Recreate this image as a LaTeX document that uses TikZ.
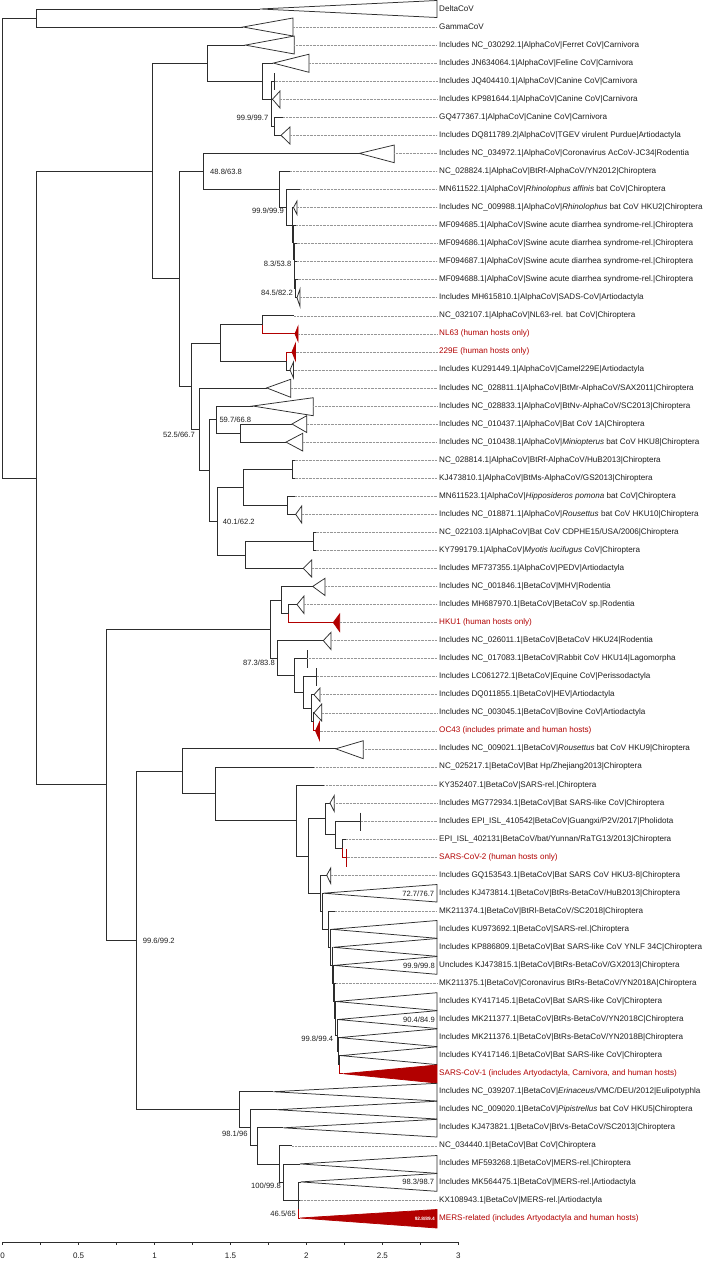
\documentclass[tikz,border=0pt]{standalone}
\usepackage{fontspec}
\setmainfont{Liberation Sans}
\definecolor{myred}{RGB}{178,0,0}
\definecolor{lin}{RGB}{45,45,45}
\definecolor{txt}{RGB}{30,30,30}
\definecolor{dotc}{RGB}{150,150,150}
\newcommand{\mylab}[2]{\node[tl] (t#1) at (439,{9+(#1-1)*18.045}) {#2};}
\newcommand{\myrlab}[2]{\node[tl,text=myred] (t#1) at (439,{9+(#1-1)*18.045}) {#2};}
\newcommand{\mytri}[5]{\draw[br] (#1,#2) -- (#3,#4) -- (#3,#5) -- cycle;}
\newcommand{\myrtri}[5]{\filldraw[rbr,fill=myred] (#1,#2) -- (#3,#4) -- (#3,#5) -- cycle;}
\newcommand{\mylead}[2]{\draw[leader] (#1,#2) -- (437,#2);}
\newcommand{\mytick}[3]{\draw[br] (#1,#2) -- (#1,#3);}
\newcommand{\bs}[4]{\node[bsl,anchor=#1] at (#2,#3) {#4};}
\begin{document}
\begin{tikzpicture}[x=1pt,y=-1pt,
  br/.style={draw=lin,line width=0.75pt},
  rbr/.style={draw=myred,line width=0.75pt},
  leader/.style={draw=dotc,line width=0.5pt,dash pattern=on 0.7pt off 0.7pt},
  tl/.style={anchor=west,inner sep=0pt,text=txt,font=\fontsize{8.1}{9}\selectfont},
  bsl/.style={inner sep=0pt,text=txt,font=\fontsize{7.6}{9}\selectfont}]
\useasboundingbox (0,0) rectangle (709,1261);
\fill[white] (0,0) rectangle (709,1261);
% ---------- internal nodes ----------
\coordinate (R0) at (2,247.9);
\coordinate (DG) at (36,18);
\coordinate (AB) at (36,477.9);
\coordinate (P) at (152.7,170.9);
\coordinate (C) at (207.3,63.1);
\coordinate (D) at (262.3,81.2);
\coordinate (E) at (271,99.2);
\coordinate (G) at (274.3,126.3);
\coordinate (Q) at (179,278.7);
\coordinate (R) at (203.3,171.4);
\coordinate (S) at (279.3,189.4);
\coordinate (T) at (286.7,207.3);
\coordinate (Z1) at (292.5,225);
\coordinate (Z2) at (293.5,242.5);
\coordinate (Z3) at (294.2,259.4);
\coordinate (Z4) at (294.8,275.2);
\coordinate (Z5) at (295.4,288.7);
\coordinate (X1) at (191.7,386);
\coordinate (X2) at (220,342.9);
\coordinate (X3) at (262.3,324.8);
\coordinate (X4) at (286,360.9);
\coordinate (X5) at (199,429.1);
\coordinate (X6) at (209.3,470.3);
\coordinate (X7) at (216,419.5);
\coordinate (X9) at (240.7,433.1);
\coordinate (X8) at (217.3,521);
\coordinate (X10) at (243.3,487.2);
\coordinate (X12) at (292.7,469.2);
\coordinate (X13) at (287,505.3);
\coordinate (X11) at (245.7,554.9);
\coordinate (X14) at (313.3,541.4);
\coordinate (B0) at (106.7,784.8);
\coordinate (B1) at (270,629);
\coordinate (B2) at (281,600);
\coordinate (B4) at (288,613.5);
\coordinate (B3) at (277.7,658.1);
\coordinate (B5) at (294.3,675.5);
\coordinate (B6) at (303.3,692.5);
\coordinate (B7) at (311.7,708.2);
\coordinate (B8) at (313.3,721.8);
\coordinate (B9) at (136,940.5);
\coordinate (B10) at (182.7,771.3);
\coordinate (B11) at (215.7,793.7);
\coordinate (B12) at (296.3,820.5);
\coordinate (B13) at (308.3,856);
\coordinate (B14) at (325.7,818.8);
\coordinate (B16) at (335.7,834.6);
\coordinate (B17) at (342.3,848.1);
\coordinate (B15) at (320,893.2);
\coordinate (L1) at (322.7,911.3);
\coordinate (L2) at (328.3,929.3);
\coordinate (L3) at (330.7,947.3);
\coordinate (L4) at (332.3,965.3);
\coordinate (L5) at (333.3,983.2);
\coordinate (L6) at (334.3,1000.9);
\coordinate (L7) at (335.3,1018.4);
\coordinate (L8) at (337,1035.3);
\coordinate (L9) at (338.3,1051.1);
\coordinate (L10) at (339.3,1064.6);
\coordinate (M1) at (239,1109.7);
\coordinate (M2) at (250.3,1127.8);
\coordinate (M3) at (257.7,1145.8);
\coordinate (M4) at (279,1163.9);
\coordinate (M5) at (283.7,1182);
\coordinate (M6) at (298.7,1200);
% ---------- backbone ----------
\draw[br] (R0) |- (DG); \draw[br] (R0) |- (AB);
\draw[br] (DG) |- (260,9); \mytri{260}{9}{437}{0.5}{17.5}
\draw[br] (DG) |- (243,27); \mytri{243}{27}{293}{18}{36} \mylead{293}{27}
\draw[br] (AB) |- (P); \draw[br] (AB) |- (B0);
% ---------- alpha ----------
\draw[br] (P) |- (C); \draw[br] (P) |- (Q);
\draw[br] (C) |- (245.3,45.1); \mytri{245.3}{45.1}{294.3}{36}{54} \mylead{294.3}{45.1}
\draw[br] (C) |- (D);
\draw[br] (D) |- (273.3,63.1); \mytri{273.3}{63.1}{309}{54.2}{72.3} \mylead{309}{63.1}
\draw[br] (D) |- (E);
\draw[br] (E) |- (274.5,81.2); \mytick{274.5}{73}{90} \mylead{274.5}{81.2}
\draw[br] (E) -- (272.5,99.2); \mytri{272.5}{99.2}{280}{91}{108} \mylead{280}{99.2}
\draw[br] (E) |- (G);
\draw[br] (G) |- (283,117.3); \mylead{283}{117.3}
\draw[br] (G) |- (281,135.3); \mytri{281}{135.3}{290}{127}{144} \mylead{290}{135.3}
\draw[br] (Q) |- (R); \draw[br] (Q) |- (X1);
\draw[br] (R) |- (359.3,153.4); \mytri{359.3}{153.4}{394.3}{145}{162.7} \mylead{394.3}{153.4}
\draw[br] (R) |- (S);
\draw[br] (S) |- (290,171.4); \mylead{290}{171.4}
\draw[br] (S) |- (T);
\draw[br] (T) |- (300,189.5); \mylead{300}{189.5}
\draw[br] (T) |- (Z1);
\draw[br] (Z1) |- (293.5,207.5); \mytri{293.5}{207.5}{297}{201}{214.5} \mylead{297}{207.5}
\draw[br] (Z1) |- (Z2);
\draw[br] (Z2) |- (296,225.5); \mylead{296}{225.5}
\draw[br] (Z2) |- (Z3);
\draw[br] (Z3) |- (296.5,243.6); \mylead{296.5}{243.6}
\draw[br] (Z3) |- (Z4);
\draw[br] (Z4) |- (297,261.6); \mylead{297}{261.6}
\draw[br] (Z4) |- (Z5);
\draw[br] (Z5) |- (297.5,279.7); \mylead{297.5}{279.7}
\draw[br] (Z5) |- (297,297.7); \mytri{297}{297.7}{300}{289}{306.5} \mylead{300}{297.7}
\draw[br] (X1) |- (X2); \draw[br] (X1) |- (X5);
\draw[br] (X2) |- (X3); \draw[br] (X2) |- (X4);
\draw[br] (X3) |- (294,315.8); \mylead{294}{315.8}
\draw[rbr] (X3) |- (295,333.8); \myrtri{295}{333.8}{298}{326.5}{341} \mylead{298}{333.8}
\draw[rbr] (X4) |- (292,351.9); \myrtri{292}{351.9}{295.5}{343.5}{360.5} \mylead{295.5}{351.9}
\draw[br] (X4) |- (290,369.9); \mytri{290}{369.9}{293.5}{362}{378} \mylead{293.5}{369.9}
\draw[br] (X5) |- (266.7,387.9); \mytri{266.7}{387.9}{290.7}{379.3}{397.3} \mylead{290.7}{387.9}
\draw[br] (X5) |- (X6);
\draw[br] (X6) |- (X7); \draw[br] (X6) |- (X8);
\draw[br] (X7) |- (252.7,406); \mytri{252.7}{406}{313.3}{397.7}{415.7} \mylead{313.3}{406}
\draw[br] (X7) |- (X9);
\draw[br] (X9) |- (292,424); \mytri{292}{424}{306.7}{415.7}{432.5} \mylead{306.7}{424}
\draw[br] (X9) |- (286,442.1); \mytri{286}{442.1}{302.7}{433.3}{451} \mylead{302.7}{442.1}
\draw[br] (X8) |- (X10); \draw[br] (X8) |- (X11);
\draw[br] (X10) |- (X12); \draw[br] (X10) |- (X13);
\draw[br] (X12) |- (294.5,460.1); \mylead{294.5}{460.1}
\draw[br] (X12) |- (294.5,478.2); \mylead{294.5}{478.2}
\draw[br] (X13) |- (295,496.2); \mylead{295}{496.2}
\draw[br] (X13) |- (295.7,514.3); \mytri{295.7}{514.3}{301.7}{506}{523} \mylead{301.7}{514.3}
\draw[br] (X11) |- (X14);
\draw[br] (X11) |- (303.3,568.4); \mytri{303.3}{568.4}{311.7}{560}{577} \mylead{311.7}{568.4}
\draw[br] (X14) |- (315.5,532.3); \mylead{315.5}{532.3}
\draw[br] (X14) |- (315.5,550.4); \mylead{315.5}{550.4}
% ---------- beta ----------
\draw[br] (B0) |- (B1); \draw[br] (B0) |- (B9);
\draw[br] (B1) |- (B2); \draw[br] (B1) |- (B3);
\draw[br] (B2) |- (312.7,586.4); \mytri{312.7}{586.4}{325}{578.3}{595.5} \mylead{325}{586.4}
\draw[br] (B2) |- (B4);
\draw[br] (B4) |- (297,604.5); \mytri{297}{604.5}{304}{596}{613.5} \mylead{304}{604.5}
\draw[rbr] (B4) |- (333.3,622.5); \myrtri{333.3}{622.5}{339.7}{614}{631.5} \mylead{339.7}{622.5}
\draw[br] (B3) |- (323.3,640.6); \mytri{323.3}{640.6}{331}{632.3}{649.5} \mylead{331}{640.6}
\draw[br] (B3) |- (B5);
\draw[br] (B5) |- (307.3,658.6); \mytick{307.3}{650}{668} \mylead{307.3}{658.6}
\draw[br] (B5) |- (B6);
\draw[br] (B6) |- (316.7,676.7); \mytick{316.7}{668}{686} \mylead{316.7}{676.7}
\draw[br] (B6) |- (B7);
\draw[br] (B7) |- (314,694.7); \mytri{314}{694.7}{320}{688}{701.5} \mylead{320}{694.7}
\draw[br] (B7) |- (B8);
\draw[br] (B8) |- (314,712.8); \mytri{314}{712.8}{321.7}{704}{721} \mylead{321.7}{712.8}
\draw[rbr] (B8) |- (315.5,730.8); \myrtri{315.5}{730.8}{319.5}{722}{740} \mylead{319.5}{730.8}
\draw[br] (B9) |- (B10); \draw[br] (B9) |- (M1);
\draw[br] (B10) |- (335.7,748.8); \mytri{335.7}{748.8}{363.3}{740.7}{758.7} \mylead{363.3}{748.8}
\draw[br] (B10) |- (B11);
\draw[br] (B11) |- (314.3,766.9); \mylead{314.3}{766.9}
\draw[br] (B11) |- (B12);
\draw[br] (B12) |- (324.3,784.9); \mylead{324.3}{784.9}
\draw[br] (B12) |- (B13);
\draw[br] (B13) |- (B14); \draw[br] (B13) |- (B15);
\draw[br] (B14) |- (330,803); \mytri{330}{803}{334.3}{795.5}{811.5} \mylead{334.3}{803}
\draw[br] (B14) |- (B16);
\draw[br] (B16) |- (360.7,821); \mytick{360.7}{812.7}{830.7} \mylead{360.7}{821}
\draw[br] (B16) |- (B17);
\draw[br] (B17) |- (346,839.1); \mylead{346}{839.1}
\draw[rbr] (B17) |- (346.5,857.1); \draw[rbr] (346.5,849) -- (346.5,866.5); \mylead{346.5}{857.1}
\draw[br] (B15) |- (326.7,875.2); \mytri{326.7}{875.2}{330.7}{868}{883.5} \mylead{330.7}{875.2}
\draw[br] (B15) |- (L1);
\draw[br] (L1) |- (323.3,893.2); \mytri{323.3}{893.2}{437}{884.5}{902}
\draw[br] (L1) |- (L2);
\draw[br] (L2) |- (335,911.3); \mylead{335}{911.3}
\draw[br] (L2) |- (L3);
\draw[br] (L3) |- (331.7,929.3); \mytri{331.7}{929.3}{437}{920.5}{938.3}
\draw[br] (L3) |- (L4);
\draw[br] (L4) |- (333.3,947.3); \mytri{333.3}{947.3}{437}{938.5}{956.3}
\draw[br] (L4) |- (L5);
\draw[br] (L5) |- (334,965.4); \mytri{334}{965.4}{437}{956.5}{974.3}
\draw[br] (L5) |- (L6);
\draw[br] (L6) |- (336,983.4); \mylead{336}{983.4}
\draw[br] (L6) |- (L7);
\draw[br] (L7) |- (336,1001.5); \mytri{336}{1001.5}{437}{992.7}{1010.5}
\draw[br] (L7) |- (L8);
\draw[br] (L8) |- (337.8,1019.5); \mytri{337.8}{1019.5}{437}{1010.7}{1028.5}
\draw[br] (L8) |- (L9);
\draw[br] (L9) |- (339.5,1037.6); \mytri{339.5}{1037.6}{437}{1028.8}{1046.6}
\draw[br] (L9) |- (L10);
\draw[br] (L10) |- (341,1055.6); \mytri{341}{1055.6}{437}{1046.8}{1064.6}
\draw[rbr] (L10) |- (343.3,1073.7); \myrtri{343.3}{1073.7}{437}{1065}{1083}
\draw[br] (M1) |- (273.3,1091.7); \mytri{273.3}{1091.7}{437}{1083.3}{1101}
\draw[br] (M1) |- (M2);
\draw[br] (M2) |- (276.7,1109.7); \mytri{276.7}{1109.7}{437}{1101.2}{1119}
\draw[br] (M2) |- (M3);
\draw[br] (M3) |- (283.3,1127.8); \mytri{283.3}{1127.8}{437}{1119.3}{1137}
\draw[br] (M3) |- (M4);
\draw[br] (M4) |- (292,1145.8); \mylead{292}{1145.8}
\draw[br] (M4) |- (M5);
\draw[br] (M5) |- (300,1163.9); \mytri{300}{1163.9}{437}{1155.5}{1173.3}
\draw[br] (M5) |- (M6);
\draw[br] (M6) |- (300.7,1181.9); \mytri{300.7}{1181.9}{437}{1173.5}{1191.3}
\draw[br] (M6) -- (299.5,1200); \mylead{299.5}{1200}
\draw[br] (M6) -- (298.7,1209);
\draw[rbr] (298.7,1209) |- (300,1218); \myrtri{300}{1218}{437}{1209.5}{1228}
% ---------- support values ----------
\bs{east}{268.5}{117.3}{99.9/99.7}
\bs{west}{210}{171.4}{48.8/63.8}
\bs{east}{284}{211}{99.9/99.9}
\bs{east}{291.5}{263.3}{8.3/53.8}
\bs{east}{293}{292.3}{84.5/82.2}
\bs{east}{195}{434.3}{52.5/66.7}
\bs{west}{219.3}{420}{59.7/66.8}
\bs{west}{222.7}{521.7}{40.1/62.2}
\bs{east}{275}{662.7}{87.3/83.8}
\bs{west}{142.7}{941}{99.6/99.2}
\bs{east}{434.3}{893.3}{72.7/76.7}
\bs{east}{435}{965.7}{99.9/99.8}
\bs{east}{435}{1020}{90.4/84.9}
\bs{east}{333.3}{1038.3}{99.8/99.4}
\bs{east}{247.7}{1133.3}{98.1/96}
\bs{east}{281}{1186}{100/99.8}
\bs{east}{434.3}{1181.7}{98.3/98.7}
\bs{east}{296}{1213.3}{46.5/65}
\node[inner sep=0pt,anchor=east,text=white,font=\fontsize{4.8}{5}\selectfont\bfseries] at (435,1218.3) {92.8/89.4};
% ---------- tip labels ----------
\mylab{1}{DeltaCoV}
\mylab{2}{GammaCoV}
\mylab{3}{Includes NC\_030292.1|AlphaCoV|Ferret CoV|Carnivora}
\mylab{4}{Includes JN634064.1|AlphaCoV|Feline CoV|Carnivora}
\mylab{5}{Includes JQ404410.1|AlphaCoV|Canine CoV|Carnivora}
\mylab{6}{Includes KP981644.1|AlphaCoV|Canine CoV|Carnivora}
\mylab{7}{GQ477367.1|AlphaCoV|Canine CoV|Carnivora}
\mylab{8}{Includes DQ811789.2|AlphaCoV|TGEV virulent Purdue|Artiodactyla}
\mylab{9}{Includes NC\_034972.1|AlphaCoV|Coronavirus AcCoV-JC34|Rodentia}
\mylab{10}{NC\_028824.1|AlphaCoV|BtRf-AlphaCoV/YN2012|Chiroptera}
\mylab{11}{MN611522.1|AlphaCoV|\textit{Rhinolophus affinis} bat CoV|Chiroptera}
\mylab{12}{Includes NC\_009988.1|AlphaCoV|\textit{Rhinolophus} bat CoV HKU2|Chiroptera}
\mylab{13}{MF094685.1|AlphaCoV|Swine acute diarrhea syndrome-rel.|Chiroptera}
\mylab{14}{MF094686.1|AlphaCoV|Swine acute diarrhea syndrome-rel.|Chiroptera}
\mylab{15}{MF094687.1|AlphaCoV|Swine acute diarrhea syndrome-rel.|Chiroptera}
\mylab{16}{MF094688.1|AlphaCoV|Swine acute diarrhea syndrome-rel.|Chiroptera}
\mylab{17}{Includes MH615810.1|AlphaCoV|SADS-CoV|Artiodactyla}
\mylab{18}{NC\_032107.1|AlphaCoV|NL63-rel. bat CoV|Chiroptera}
\myrlab{19}{NL63 (human hosts only)}
\myrlab{20}{229E (human hosts only)}
\mylab{21}{Includes KU291449.1|AlphaCoV|Camel229E|Artiodactyla}
\mylab{22}{Includes NC\_028811.1|AlphaCoV|BtMr-AlphaCoV/SAX2011|Chiroptera}
\mylab{23}{Includes NC\_028833.1|AlphaCoV|BtNv-AlphaCoV/SC2013|Chiroptera}
\mylab{24}{Includes NC\_010437.1|AlphaCoV|Bat CoV 1A|Chiroptera}
\mylab{25}{Includes NC\_010438.1|AlphaCoV|\textit{Miniopterus} bat CoV HKU8|Chiroptera}
\mylab{26}{NC\_028814.1|AlphaCoV|BtRf-AlphaCoV/HuB2013|Chiroptera}
\mylab{27}{KJ473810.1|AlphaCoV|BtMs-AlphaCoV/GS2013|Chiroptera}
\mylab{28}{MN611523.1|AlphaCoV|\textit{Hipposideros pomona} bat CoV|Chiroptera}
\mylab{29}{Includes NC\_018871.1|AlphaCoV|\textit{Rousettus} bat CoV HKU10|Chiroptera}
\mylab{30}{NC\_022103.1|AlphaCoV|Bat CoV CDPHE15/USA/2006|Chiroptera}
\mylab{31}{KY799179.1|AlphaCoV|\textit{Myotis lucifugus} CoV|Chiroptera}
\mylab{32}{Includes MF737355.1|AlphaCoV|PEDV|Artiodactyla}
\mylab{33}{Includes NC\_001846.1|BetaCoV|MHV|Rodentia}
\mylab{34}{Includes MH687970.1|BetaCoV|BetaCoV sp.|Rodentia}
\myrlab{35}{HKU1 (human hosts only)}
\mylab{36}{Includes NC\_026011.1|BetaCoV|BetaCoV HKU24|Rodentia}
\mylab{37}{Includes NC\_017083.1|BetaCoV|Rabbit CoV HKU14|Lagomorpha}
\mylab{38}{Includes LC061272.1|BetaCoV|Equine CoV|Perissodactyla}
\mylab{39}{Includes DQ011855.1|BetaCoV|HEV|Artiodactyla}
\mylab{40}{Includes NC\_003045.1|BetaCoV|Bovine CoV|Artiodactyla}
\myrlab{41}{OC43 (includes primate and human hosts)}
\mylab{42}{Includes NC\_009021.1|BetaCoV|\textit{Rousettus} bat CoV HKU9|Chiroptera}
\mylab{43}{NC\_025217.1|BetaCoV|Bat Hp/Zhejiang2013|Chiroptera}
\mylab{44}{KY352407.1|BetaCoV|SARS-rel.|Chiroptera}
\mylab{45}{Includes MG772934.1|BetaCoV|Bat SARS-like CoV|Chiroptera}
\mylab{46}{Includes EPI\_ISL\_410542|BetaCoV|Guangxi/P2V/2017|Pholidota}
\mylab{47}{EPI\_ISL\_402131|BetaCoV/bat/Yunnan/RaTG13/2013|Chiroptera}
\myrlab{48}{SARS-CoV-2 (human hosts only)}
\mylab{49}{Includes GQ153543.1|BetaCoV|Bat SARS CoV HKU3-8|Chiroptera}
\mylab{50}{Includes KJ473814.1|BetaCoV|BtRs-BetaCoV/HuB2013|Chiroptera}
\mylab{51}{MK211374.1|BetaCoV|BtRl-BetaCoV/SC2018|Chiroptera}
\mylab{52}{Includes KU973692.1|BetaCoV|SARS-rel.|Chiroptera}
\mylab{53}{Includes KP886809.1|BetaCoV|Bat SARS-like CoV YNLF 34C|Chiroptera}
\mylab{54}{Uncludes KJ473815.1|BetaCoV|BtRs-BetaCoV/GX2013|Chiroptera}
\mylab{55}{MK211375.1|BetaCoV|Coronavirus BtRs-BetaCoV/YN2018A|Chiroptera}
\mylab{56}{Includes KY417145.1|BetaCoV|Bat SARS-like CoV|Chiroptera}
\mylab{57}{Includes MK211377.1|BetaCoV|BtRs-BetaCoV/YN2018C|Chiroptera}
\mylab{58}{Includes MK211376.1|BetaCoV|BtRs-BetaCoV/YN2018B|Chiroptera}
\mylab{59}{Includes KY417146.1|BetaCoV|Bat SARS-like CoV|Chiroptera}
\myrlab{60}{SARS-CoV-1 (includes Artyodactyla, Carnivora, and human hosts)}
\mylab{61}{Includes NC\_039207.1|BetaCoV|\textit{Erinaceus}/VMC/DEU/2012|Eulipotyphla}
\mylab{62}{Includes NC\_009020.1|BetaCoV|\textit{Pipistrellus} bat CoV HKU5|Chiroptera}
\mylab{63}{Includes KJ473821.1|BetaCoV|BtVs-BetaCoV/SC2013|Chiroptera}
\mylab{64}{NC\_034440.1|BetaCoV|Bat CoV|Chiroptera}
\mylab{65}{Includes MF593268.1|BetaCoV|MERS-rel.|Chiroptera}
\mylab{66}{Includes MK564475.1|BetaCoV|MERS-rel.|Artiodactyla}
\mylab{67}{KX108943.1|BetaCoV|MERS-rel.|Artiodactyla}
\myrlab{68}{MERS-related (includes Artyodactyla and human hosts)}
% ---------- axis ----------
\draw[draw=lin,line width=1.2pt] (2.7,1242.3) -- (458.3,1242.3);
\foreach \i in {0,...,12} {\draw[draw=lin,line width=0.5pt] ({2.7+\i*37.967},1242.3) -- ({2.7+\i*37.967},1244.8);}
\foreach \v/\l in {0/0,1/0.5,2/1,3/1.5,4/2,5/2.5,6/3} {\node[bsl,text=txt,font=\fontsize{8}{9}\selectfont] (ax\v) at ({2.7+\v*75.933},1255.5) {\l};}
\end{tikzpicture}
\end{document}
